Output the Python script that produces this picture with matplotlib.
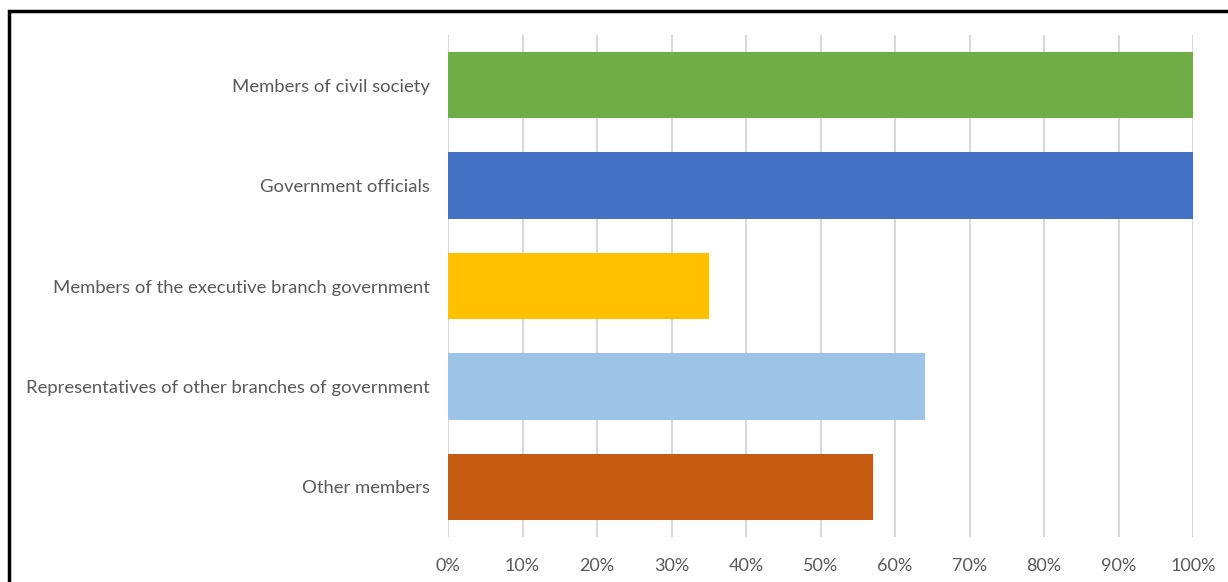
#!/usr/bin/env python3

from matplotlib import pyplot as plt
from matplotlib.patches import Rectangle
from matplotlib.ticker import FuncFormatter

# Chart data (top to bottom)
categories = [
    'Members of civil society',
    'Government officials',
    'Members of the executive branch government',
    'Representatives of other branches of government',
    'Other members',
]
values = [100, 100, 35, 64, 57]
colors = ['#70AD47', '#4472C4', '#FFC000', '#9DC3E6', '#C55A11']
x_ticks = list(range(0, 101, 10))

text_color = '#595959'
grid_color = '#D9D9D9'

W, H = 1228, 582
fig = plt.figure(figsize=(W / 100, H / 100), dpi=100)
plt.rcParams['font.family'] = ['Lato', 'DejaVu Sans']

# Axes placed in pixel terms
left, right, top, bottom = 448, 1193, 35, 537
ax = fig.add_axes([left / W, 1 - bottom / H, (right - left) / W, (bottom - top) / H])

ypos = list(range(len(categories)))
ax.barh(ypos, values, height=0.66, color=colors, zorder=3)
ax.set_ylim(len(categories) - 0.5, -0.5)
ax.set_xlim(0, 100)

ax.set_yticks(ypos)
ax.set_yticklabels(categories, fontsize=13.3, color=text_color)
ax.set_xticks(x_ticks)
ax.xaxis.set_major_formatter(FuncFormatter(lambda v, p: '{:.0f}%'.format(v)))
ax.tick_params(axis='x', labelsize=13, colors=text_color, length=0, pad=15)
ax.tick_params(axis='y', length=0, pad=13)

ax.grid(axis='x', color=grid_color, linewidth=1.5, zorder=0)
for s in ax.spines.values():
    s.set_visible(False)

# Black frame around the chart, cut off at right and bottom
fig.patches.append(Rectangle((8.5 / W, -0.1), 1.2, 1 - 11 / H + 0.1,
                             transform=fig.transFigure, fill=False,
                             edgecolor='black', linewidth=2.5))

plt.savefig('out.png', dpi=100)
